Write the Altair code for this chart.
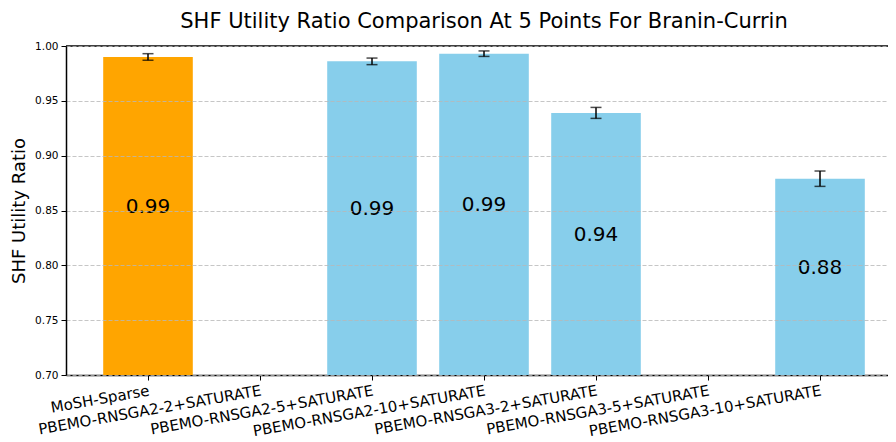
import altair as alt
import pandas as pd

title_text = "SHF Utility Ratio Comparison At 5 Points For Branin-Currin"
methods = [
    "MoSH-Sparse",
    "PBEMO-RNSGA2-2+SATURATE",
    "PBEMO-RNSGA2-5+SATURATE",
    "PBEMO-RNSGA2-10+SATURATE",
    "PBEMO-RNSGA3-2+SATURATE",
    "PBEMO-RNSGA3-5+SATURATE",
    "PBEMO-RNSGA3-10+SATURATE",
]
means = [0.990, None, 0.986, 0.993, 0.939, None, 0.879]
errors = [0.003, None, 0.003, 0.0025, 0.005, None, 0.007]
groups = ["MoSH", "PBEMO", "PBEMO", "PBEMO", "PBEMO", "PBEMO", "PBEMO"]
y_ticks = [0.70, 0.75, 0.80, 0.85, 0.90, 0.95, 1.00]
y_min, y_max = 0.70, 1.00

df = pd.DataFrame({"method": methods, "mean": means, "err": errors, "group": groups})
df_valid = df.dropna().copy()

W, H = 822, 329

xscale = alt.Scale(domain=methods, paddingInner=0.2, paddingOuter=0.2696, align=0.616)
xenc = alt.X("method:N", scale=xscale, sort=methods,
             axis=alt.Axis(title=None, labelAngle=-10, labelAlign="right", labelBaseline="top",
                           labelFontSize=15, labelColor="black", tickColor="black",
                           tickSize=5, labelPadding=3, domainColor="black", domainWidth=1.5,
                           labelOverlap=False, labelLimit=0))
yscale = alt.Scale(domain=[y_min, y_max], zero=False, nice=False)

base = alt.Chart(df_valid)

bars = base.mark_bar().encode(
    x=xenc,
    y=alt.Y("mean:Q", scale=yscale,
            axis=alt.Axis(title="SHF Utility Ratio", values=y_ticks, format=".2f",
                          titleFontSize=18, titleFontWeight="normal", titleColor="black",
                          titlePadding=6, labelFontSize=10.5, labelColor="black",
                          tickColor="black", tickSize=5, labelPadding=3,
                          domainColor="black", domainWidth=1.5,
                          grid=True, gridDash=[4, 2], gridColor="#b8b8b8", gridOpacity=0.8,
                          zindex=1)),
    y2=alt.datum(y_min),
    color=alt.Color("group:N", scale=alt.Scale(domain=["MoSH", "PBEMO"], range=["#FFA500", "#87CEEB"]),
                    legend=None),
)

err_df = base.transform_calculate(lo="datum.mean - datum.err", hi="datum.mean + datum.err")

err_rule = err_df.mark_rule(color="black", strokeWidth=1.5).encode(
    x=alt.X("method:N", scale=xscale, sort=methods),
    y=alt.Y("lo:Q", scale=yscale),
    y2="hi:Q",
)
cap_lo = err_df.mark_tick(color="black", size=11, thickness=1.5).encode(
    x=alt.X("method:N", scale=xscale, sort=methods),
    y=alt.Y("lo:Q", scale=yscale),
)
cap_hi = err_df.mark_tick(color="black", size=11, thickness=1.5).encode(
    x=alt.X("method:N", scale=xscale, sort=methods),
    y=alt.Y("hi:Q", scale=yscale),
)

labels = base.transform_calculate(
    ypos="(datum.mean + 0.717) / 2"
).mark_text(fontSize=20, color="black", baseline="middle", align="center").encode(
    x=alt.X("method:N", scale=xscale, sort=methods),
    y=alt.Y("ypos:Q", scale=yscale),
    text=alt.Text("mean:Q", format=".2f"),
)

frame_df = pd.DataFrame({"k": [0]})
top_line = alt.Chart(frame_df).mark_rule(color="black", strokeWidth=1.5).encode(
    y=alt.value(0), x=alt.value(0), x2=alt.value(W)
)
title_mark = alt.Chart(frame_df).mark_text(
    text=title_text, fontSize=21, color="black", align="center", baseline="alphabetic"
).encode(x=alt.value(W / 2 + 7), y=alt.value(-18))

chart = alt.layer(bars, err_rule, cap_lo, cap_hi, labels, top_line, title_mark).properties(
    width=W, height=H,
    autosize=alt.AutoSizeParams(type="none"),
    padding={"left": 58, "top": 38, "right": 0, "bottom": 67},
).configure_view(stroke=None).configure(font="DejaVu Sans")

chart.save("out.html", embed_options={"renderer": "svg", "actions": False})
